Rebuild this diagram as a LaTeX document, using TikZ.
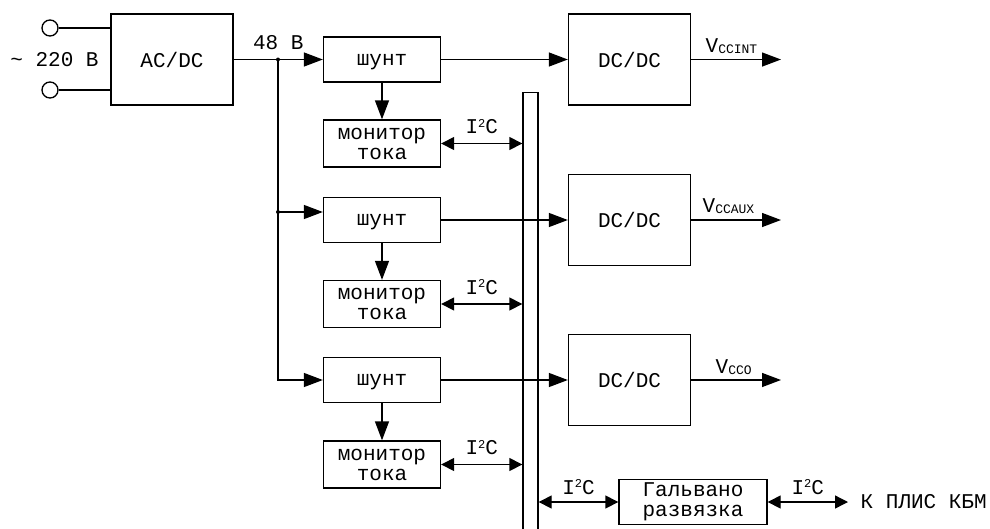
\documentclass[tikz,border=0pt]{standalone}
\usepackage{fontspec}
\setmainfont{Liberation Mono}
\usetikzlibrary{arrows.meta}
\newcommand\vsub[1]{\raisebox{-1.5pt}{\fontsize{13}{13}\selectfont #1}}
\newcommand\iic{I\raisebox{6.5pt}{\fontsize{12}{12}\selectfont 2}C}

\begin{document}
\begin{tikzpicture}[x=1pt,y=-1pt,line width=1.35pt,
  every node/.style={font=\fontsize{21}{21}\selectfont},
  blk/.style={draw,rectangle,inner sep=0pt,align=center},
  conv/.style={blk,minimum width=122,minimum height=91},
  shuntbox/.style={blk,minimum width=117,minimum height=45,text depth=0pt},
  monbox/.style={blk,minimum width=117,minimum height=47},
  term/.style={circle,draw,minimum size=16,inner sep=0pt},
  main/.style={-{Triangle[length=19pt,width=14pt]}},
  bi/.style={{Triangle[length=13pt,width=13pt]}-{Triangle[length=13pt,width=13pt]}}]
\useasboundingbox (0,0) rectangle (990,528);
\node[term] (t1) at (50,28) {};
\node[term] (t2) at (50,90) {};
\node (mains) at (54.5,60) {\textasciitilde{} 220 В};
\node[conv] (acdc) at (172,59.5) {AC/DC};
\node[shuntbox] (sh1) at (382,59.5) {шунт};
\node[shuntbox] (sh2) at (382,220) {шунт};
\node[shuntbox] (sh3) at (382,380) {шунт};
\node[monbox] (mon1) at (382,143.5) {монитор\\[-1pt]тока};
\node[monbox] (mon2) at (382,304) {монитор\\[-1pt]тока};
\node[monbox] (mon3) at (382,464.5) {монитор\\[-1pt]тока};
\node[conv] (dc1) at (629.5,59.5) {DC/DC};
\node[conv] (dc2) at (629.5,220) {DC/DC};
\node[conv] (dc3) at (629.5,380) {DC/DC};
\node[draw,inner sep=0pt,minimum width=15,minimum height=450,anchor=north] (bus) at (530.5,92) {};
\node[blk,minimum width=148,minimum height=45] (gal) at (693,502) {Гальвано\\[-1pt]развязка};
\node[anchor=west,inner sep=0pt] (kplis) at (860,502) {К ПЛИС КБМ};
\coordinate (j1) at (278,59.5);
\coordinate (j2) at (278,212);
\coordinate (o1) at (781,59.5);
\coordinate (o2) at (781,220);
\coordinate (o3) at (781,380);
\draw (t1.east) -- (t1.east -| acdc.west);
\draw (t2.east) -- (t2.east -| acdc.west);
\draw[main] (acdc.east) -- (sh1.west) node[midway,above=9pt,inner sep=0pt] (v48) {48 В};
\draw[main] (j1) |- (sh3.west);
\draw[main] (j2) -- (j2 -| sh2.west);
\fill (j1) circle (2);
\fill (j2) circle (2);
\draw[main] (sh1) -- (mon1);
\draw[main] (sh2) -- (mon2);
\draw[main] (sh3) -- (mon3);
\draw[main] (sh1.east) -- (dc1.west);
\draw[main] (sh2.east) -- (dc2.west);
\draw[main] (sh3.east) -- (dc3.west);
\draw[bi] (mon1.east) -- (mon1.east -| bus.west) node[midway,above=9pt,inner sep=0pt] (i1) {\iic};
\draw[bi] (mon2.east) -- (mon2.east -| bus.west) node[midway,above=9pt,inner sep=0pt] (i2) {\iic};
\draw[bi] (mon3.east) -- (mon3.east -| bus.west) node[midway,above=9pt,inner sep=0pt] (i3) {\iic};
\draw[bi] (gal.west -| bus.east) -- (gal.west) node[midway,above=7pt,inner sep=0pt] (i4) {\iic};
\draw[bi,shorten >=12pt] (gal.east) -- (kplis.west) node[midway,above=7pt,inner sep=0pt,xshift=-6pt] (i5) {\iic};
\draw[main] (dc1.east) -- (o1);
\draw[main] (dc2.east) -- (o2);
\draw[main] (dc3.east) -- (o3);
\node[anchor=base west,inner sep=0pt] (vint) at (705,52) {V\vsub{CCINT}};
\node[anchor=base west,inner sep=0pt] (vaux) at (702,212) {V\vsub{CCAUX}};
\node[anchor=base west,inner sep=0pt] (vo) at (715,373) {V\vsub{CCO}};
\end{tikzpicture}
\end{document}
